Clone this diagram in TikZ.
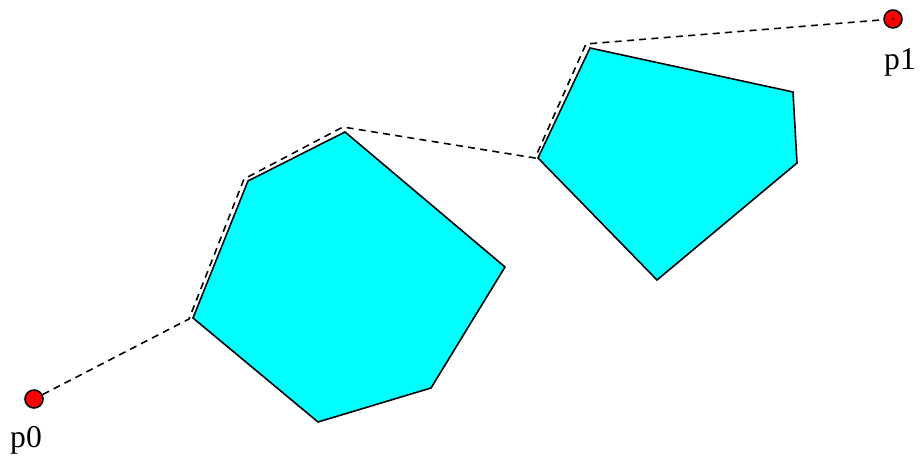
\documentclass[tikz,border=0pt]{standalone}
\usepackage{fontspec}
\setmainfont{Liberation Serif}
\usepackage{xcolor}
\usepackage{tikz}
\definecolor{obstcyan}{HTML}{00FFFF}
\definecolor{endred}{HTML}{FF0000}
\tikzset{
  obstacle/.style={fill=obstcyan,draw=black,line width=0.9pt,line join=miter},
  endpt/.style={circle,fill=endred,draw=black,line width=0.9pt,minimum size=0.36cm,inner sep=0pt},
  route/.style={dashed,dash pattern=on 4pt off 3pt,line width=0.9pt},
  ptlabel/.style={font=\fontsize{18}{20}\selectfont,inner sep=0pt}
}

\begin{document}
\begin{tikzpicture}
  \useasboundingbox (0,0) rectangle (18.4,9.28);
  % obstacles
  \coordinate (a1) at (3.86,2.92);
  \coordinate (a2) at (4.96,5.66);
  \coordinate (a3) at (6.90,6.64);
  \coordinate (a4) at (10.10,3.94);
  \coordinate (a5) at (8.62,1.52);
  \coordinate (a6) at (6.36,0.84);
  \draw[obstacle] (a1)--(a2)--(a3)--(a4)--(a5)--(a6)--cycle;
  \coordinate (b1) at (10.76,6.12);
  \coordinate (b2) at (11.80,8.32);
  \coordinate (b3) at (15.86,7.44);
  \coordinate (b4) at (15.94,6.02);
  \coordinate (b5) at (13.14,3.68);
  \draw[obstacle] (b1)--(b2)--(b3)--(b4)--(b5)--cycle;
  % shortest path
  \coordinate (w1) at (3.78,2.90);
  \coordinate (w2) at (4.88,5.70);
  \coordinate (w3) at (6.86,6.74);
  \coordinate (w4) at (10.70,6.12);
  \coordinate (w5) at (11.72,8.40);
  \node[endpt] (p0) at (0.68,1.30) {};
  \node[endpt] (p1) at (17.86,8.90) {};
  \fill (p1) circle (0.025);
  \draw[route] (p0)--(w1)--(w2)--(w3)--(w4)--(w5)--(p1);
  \node[ptlabel] (p0lab) at (0.52,0.48) {p0};
  \node[ptlabel] (p1lab) at (18.0,8.04) {p1};
\end{tikzpicture}
\end{document}
